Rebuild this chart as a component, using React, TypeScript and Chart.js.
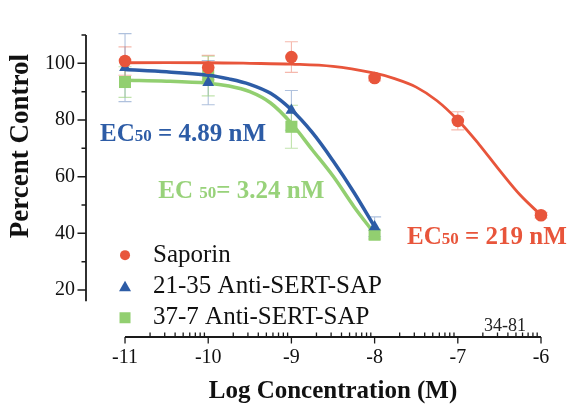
import React, { useEffect, useRef } from 'react';
import { Chart, registerables } from 'chart.js';

Chart.register(...registerables);

// ---------- data ----------
const concentrations = [-11, -10, -9, -8, -7, -6];
const saporinMean = [100.8, 98.5, 102.2, 94.8, 79.7, 46.4];
const saporinErr = [5.0, 4.3, 5.4, 1.0, 3.2, 1.0];

const antiConc = [-11, -10, -9, -8];
const sert2135Mean = [98.5, 93.2, 83.4, 42.3];
const sert2135Err = [12.0, 7.8, 7.0, 3.5];
const sert377Mean = [93.4, 95.5, 77.6, 39.5];
const sert377Err = [5.4, 7.0, 7.6, 1.5];

const saporinFitX = [-11, -10, -9.5, -9, -8.5, -8, -7.75, -7.5, -7.25, -7, -6.75, -6.5, -6.25, -6];
const saporinFitY = [100.2, 100.2, 100.0, 99.7, 98.9, 96.5, 94.5, 91.6, 86.8, 80.0, 71.6, 62.3, 53.5, 46.4];
const antiFitX = [-11, -10.5, -10, -9.75, -9.5, -9.25, -9, -8.75, -8.5, -8.25, -8];
const sert2135FitY = [97.8, 97.0, 95.8, 94.5, 92.6, 89.4, 83.6, 75.6, 65.6, 54.5, 42.3];
const sert377FitY = [94.0, 93.7, 93.0, 92.0, 90.0, 86.0, 78.8, 69.5, 60.2, 49.5, 39.8];

const seriesNames = ['Saporin', '21-35 Anti-SERT-SAP', '37-7 Anti-SERT-SAP'];
const ec50Values = ['219 nM', '4.89 nM', '3.24 nM'];
const xTicks = [-11, -10, -9, -8, -7, -6];
const yTicks = [20, 40, 60, 80, 100];
const yMinorTicks = [30, 50, 70, 90, 110];
const yAxisRange = [16, 110];
const xTitle = 'Log Concentration (M)';
const yTitle = 'Percent Control';
const figureCode = '34-81';

// ---------- style ----------
const SERIF = "'Liberation Serif', 'Times New Roman', serif";
const RED = '#e8553b';
const BLUE = '#2d5ca6';
const GREEN = '#92cf70';
const ERR = ['rgba(232,85,59,0.42)', 'rgba(45,92,166,0.38)', 'rgba(146,207,112,0.58)'];
const AXIS = '#1a1a1a';
const X_MIN = -11.469;
const Y_MIN = 3.4;
const Y_MAX = 110;

const pts = (xs: number[], ys: number[]) => xs.map((x, i) => ({ x, y: ys[i] }));

const overlay = {
  id: 'overlay',
  beforeDraw(chart: any) {
    const { ctx, width, height } = chart;
    ctx.save();
    ctx.fillStyle = '#ffffff';
    ctx.fillRect(0, 0, width, height);
    ctx.restore();
  },
  beforeDatasetsDraw(chart: any) {
    const { ctx } = chart;
    const xs = chart.scales.x;
    const ys = chart.scales.y;
    const groups = [
      [concentrations, saporinMean, saporinErr],
      [antiConc, sert2135Mean, sert2135Err],
      [antiConc, sert377Mean, sert377Err],
    ];
    ctx.save();
    ctx.lineWidth = 1.1;
    groups.forEach((g, gi) => {
      const [cx, m, e] = g as number[][];
      ctx.strokeStyle = ERR[gi];
      cx.forEach((c, i) => {
        const px = xs.getPixelForValue(c);
        const top = ys.getPixelForValue(m[i] + e[i]);
        const bot = ys.getPixelForValue(m[i] - e[i]);
        ctx.beginPath();
        ctx.moveTo(px, top);
        ctx.lineTo(px, bot);
        ctx.moveTo(px - 6.5, top);
        ctx.lineTo(px + 6.5, top);
        ctx.moveTo(px - 6.5, bot);
        ctx.lineTo(px + 6.5, bot);
        ctx.stroke();
      });
    });
    ctx.restore();
  },
  afterDraw(chart: any) {
    const { ctx, chartArea } = chart;
    const xs = chart.scales.x;
    const ys = chart.scales.y;
    ctx.save();
    // y axis
    const ax = chartArea.left;
    ctx.strokeStyle = AXIS;
    ctx.lineWidth = 1.8;
    ctx.beginPath();
    ctx.moveTo(ax, ys.getPixelForValue(yAxisRange[0]));
    ctx.lineTo(ax, ys.getPixelForValue(yAxisRange[1]));
    ctx.stroke();
    ctx.lineWidth = 1.5;
    ctx.beginPath();
    yTicks.forEach((v) => {
      const py = ys.getPixelForValue(v);
      ctx.moveTo(ax - 8.5, py);
      ctx.lineTo(ax, py);
    });
    yMinorTicks.forEach((v) => {
      const py = ys.getPixelForValue(v);
      ctx.moveTo(ax - 4.5, py);
      ctx.lineTo(ax, py);
    });
    ctx.stroke();

    // x axis
    const ay = chartArea.bottom;
    const x0 = xs.getPixelForValue(xTicks[0]);
    const x1 = xs.getPixelForValue(xTicks[xTicks.length - 1]);
    ctx.lineWidth = 1.8;
    ctx.beginPath();
    ctx.moveTo(x0, ay);
    ctx.lineTo(x1, ay);
    ctx.stroke();
    ctx.lineWidth = 1.3;
    ctx.beginPath();
    xTicks.forEach((v) => {
      const px = xs.getPixelForValue(v);
      ctx.moveTo(px, ay);
      ctx.lineTo(px, ay + 6.5);
    });
    for (let d = 0; d < xTicks.length - 1; d++) {
      for (let k = 2; k <= 9; k++) {
        const px = xs.getPixelForValue(xTicks[d] + Math.log10(k));
        ctx.moveTo(px, ay);
        ctx.lineTo(px, ay - 4.5);
      }
    }
    ctx.stroke();

    // axis titles
    ctx.fillStyle = '#111';
    ctx.font = `bold 25px ${SERIF}`;
    ctx.textAlign = 'center';
    ctx.textBaseline = 'alphabetic';
    ctx.fillText(xTitle, (x0 + x1) / 2, ay + 61);
    ctx.save();
    ctx.translate(28, ys.getPixelForValue(70.8));
    ctx.rotate(-Math.PI / 2);
    ctx.font = `bold 27px ${SERIF}`;
    ctx.fillText(yTitle, 0, 0);
    ctx.restore();

    // figure code
    ctx.font = `18px ${SERIF}`;
    ctx.textAlign = 'right';
    ctx.fillStyle = '#222';
    ctx.fillText(figureCode, xs.getPixelForValue(-6.18), ay - 6.5);

    // EC50 labels
    const ecLabels = [
      { pre: 'EC', mid: ' = ', val: ec50Values[0], x: -7.61, y: 36.2, color: RED },
      { pre: 'EC', mid: ' = ', val: ec50Values[1], x: -11.3, y: 72.6, color: BLUE },
      { pre: 'EC ', mid: '= ', val: ec50Values[2], x: -10.6, y: 52.5, color: '#98d27a' },
    ];
    ctx.textAlign = 'left';
    ecLabels.forEach((l) => {
      let px = xs.getPixelForValue(l.x);
      const py = ys.getPixelForValue(l.y);
      ctx.fillStyle = l.color;
      ctx.font = `bold 25px ${SERIF}`;
      ctx.fillText(l.pre, px, py);
      px += ctx.measureText(l.pre).width;
      ctx.font = `bold 17px ${SERIF}`;
      ctx.fillText('50', px, py);
      px += ctx.measureText('50').width;
      ctx.font = `bold 25px ${SERIF}`;
      ctx.fillText(l.mid + l.val, px, py);
    });

    // legend
    const legendColors = [RED, BLUE, GREEN];
    const legendY = [30.0, 18.8, 7.9];
    const mx = xs.getPixelForValue(-11);
    ctx.font = `25px ${SERIF}`;
    legendColors.forEach((c, i) => {
      const by = ys.getPixelForValue(legendY[i]);
      const cy = by - 6.5;
      ctx.fillStyle = c;
      ctx.beginPath();
      if (i === 0) {
        ctx.arc(mx, cy, 5, 0, Math.PI * 2);
      } else if (i === 1) {
        ctx.moveTo(mx, cy - 6);
        ctx.lineTo(mx + 6, cy + 4.5);
        ctx.lineTo(mx - 6, cy + 4.5);
        ctx.closePath();
      } else {
        ctx.rect(mx - 5.5, cy - 5.5, 11, 11);
      }
      ctx.fill();
      ctx.fillStyle = '#111';
      ctx.fillText(seriesNames[i], mx + 28, by);
    });
    ctx.restore();
  },
};

export default function App() {
  const ref = useRef<HTMLCanvasElement>(null);
  useEffect(() => {
    if (!ref.current) return;
    const curve = (label: string, xs: number[], ys: number[], color: string, width: number, order: number) => ({
      label,
      data: pts(xs, ys),
      showLine: true,
      pointRadius: 0,
      borderColor: color,
      borderWidth: width,
      tension: 0.35,
      clip: false,
      order,
    });
    const chart = new Chart(ref.current, {
      type: 'scatter',
      data: {
        datasets: [
          {
            label: seriesNames[0],
            data: pts(concentrations, saporinMean),
            pointStyle: 'circle',
            pointRadius: 6.3,
            backgroundColor: RED,
            borderColor: RED,
            pointBorderWidth: 0,
            clip: false,
            order: 0,
          },
          curve(seriesNames[0] + ' fit', saporinFitX, saporinFitY, RED, 2.8, 1),
          {
            label: seriesNames[1],
            data: pts(antiConc, sert2135Mean),
            pointStyle: 'triangle',
            pointRadius: 6.8,
            backgroundColor: BLUE,
            borderColor: BLUE,
            pointBorderWidth: 0,
            clip: false,
            order: 2,
          },
          curve(seriesNames[1] + ' fit', antiFitX, sert2135FitY, BLUE, 3.5, 3),
          {
            label: seriesNames[2],
            data: pts(antiConc, sert377Mean),
            pointStyle: 'rect',
            pointRadius: 8.5,
            backgroundColor: GREEN,
            borderColor: GREEN,
            pointBorderWidth: 0,
            clip: false,
            order: 4,
          },
          curve(seriesNames[2] + ' fit', antiFitX, sert377FitY, GREEN, 3.5, 5),
        ] as any,
      },
      options: {
        responsive: false,
        animation: false,
        layout: { padding: { top: 35, right: 46, left: 0, bottom: 0 } },
        plugins: { legend: { display: false }, tooltip: { enabled: false } },
        scales: {
          x: {
            type: 'linear',
            min: X_MIN,
            max: -6,
            afterBuildTicks: (s: any) => {
              s.ticks = xTicks.map((v) => ({ value: v }));
            },
            afterFit: (s: any) => {
              s.height = 69;
            },
            grid: { display: false, drawTicks: false, tickLength: 0 },
            border: { display: false },
            ticks: {
              autoSkip: false,
              maxRotation: 0,
              padding: 9,
              color: '#111',
              font: { family: SERIF, size: 20 },
              callback: (v: any) => String(v),
            },
          },
          y: {
            type: 'linear',
            min: Y_MIN,
            max: Y_MAX,
            afterBuildTicks: (s: any) => {
              s.ticks = yTicks.map((v) => ({ value: v }));
            },
            afterFit: (s: any) => {
              s.width = 86;
            },
            grid: { display: false, drawTicks: false, tickLength: 0 },
            border: { display: false },
            ticks: {
              padding: 11,
              color: '#111',
              font: { family: SERIF, size: 20 },
              callback: (v: any) => String(v),
            },
          },
        },
      } as any,
      plugins: [overlay],
    });
    return () => chart.destroy();
  }, []);
  return (
    <div style={{ position: 'absolute', left: 0, top: 0, width: 587, height: 406, background: '#fff' }}>
      <canvas ref={ref} width={587} height={406} style={{ display: 'block' }} />
    </div>
  );
}
